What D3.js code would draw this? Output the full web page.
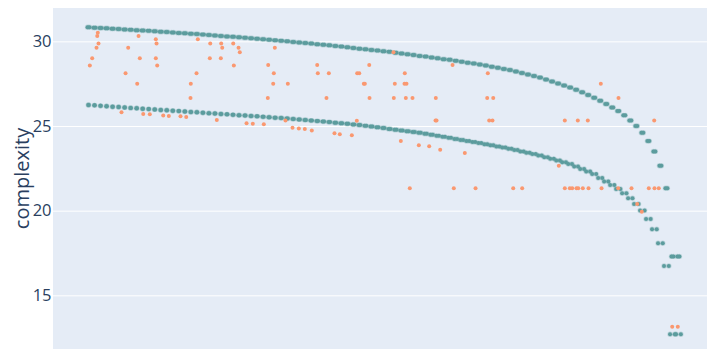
<!DOCTYPE html>
<html>
<head>
<meta charset="utf-8">
<script src="https://cdn.jsdelivr.net/npm/d3@7"></script>
<style>
  html, body { margin: 0; padding: 0; background: #ffffff; }
  svg { display: block; }
</style>
</head>
<body>
<svg id="chart" width="707" height="349"></svg>
<script>
// ---------------- DATA ----------------
// y-axis tick labels
const yTicks = [15, 20, 25, 30];

// upper teal series (one value per step index 0..98)
const upperComplexity = [
  30.83, 30.81, 30.79, 30.77, 30.75, 30.73, 30.70, 30.68, 30.66, 30.64,
  30.62, 30.60, 30.57, 30.55, 30.52, 30.50, 30.48, 30.45, 30.43, 30.40,
  30.38, 30.35, 30.32, 30.29, 30.27, 30.24, 30.21, 30.18, 30.15, 30.12,
  30.10, 30.06, 30.03, 30.00, 29.96, 29.93, 29.90, 29.87, 29.83, 29.80,
  29.77, 29.73, 29.69, 29.65, 29.61, 29.57, 29.53, 29.49, 29.46, 29.42,
  29.38, 29.33, 29.28, 29.24, 29.19, 29.14, 29.10, 29.05, 29.00, 28.95,
  28.91, 28.85, 28.80, 28.74, 28.69, 28.63, 28.57, 28.50, 28.44, 28.37,
  28.31, 28.22, 28.13, 28.04, 27.95, 27.86, 27.74, 27.63, 27.51, 27.40,
  27.28, 27.14, 26.99, 26.83, 26.67, 26.49, 26.30, 26.10, 25.88, 25.63,
  25.33, 25.00, 24.60, 24.11, 23.50, 22.65, 21.33, 17.30, 17.30
];

// lower teal series (one value per step index 0..98)
const lowerComplexity = [
  26.24, 26.22, 26.19, 26.17, 26.14, 26.12, 26.10, 26.07, 26.05, 26.02,
  26.00, 25.98, 25.95, 25.93, 25.90, 25.88, 25.86, 25.83, 25.81, 25.78,
  25.76, 25.74, 25.71, 25.69, 25.66, 25.64, 25.62, 25.59, 25.57, 25.54,
  25.52, 25.49, 25.47, 25.44, 25.42, 25.39, 25.36, 25.32, 25.29, 25.26,
  25.23, 25.19, 25.16, 25.13, 25.09, 25.06, 25.01, 24.97, 24.92, 24.88,
  24.83, 24.78, 24.74, 24.69, 24.65, 24.60, 24.54, 24.48, 24.42, 24.36,
  24.30, 24.23, 24.17, 24.11, 24.05, 23.99, 23.92, 23.86, 23.79, 23.73,
  23.66, 23.58, 23.50, 23.42, 23.34, 23.26, 23.16, 23.06, 22.96, 22.86,
  22.76, 22.61, 22.46, 22.31, 22.16, 21.93, 21.72, 21.51, 21.28, 21.03,
  20.74, 20.40, 20.01, 19.51, 18.90, 18.08, 16.73, 12.70, 12.70
];

// orange observed points: step position and complexity
const orangeX = [
  0.22, 0.61, 1.33, 1.45, 1.54, 1.66, 6.15, 6.59, 8.09, 8.31,
  8.52, 5.48, 9.09, 10.18, 11.18, 11.30, 11.18, 11.41, 12.41, 13.34,
  15.28, 16.23, 16.99, 16.94, 17.94, 18.16, 20.22, 20.15, 22.04, 22.21,
  21.98, 21.31, 24.04, 24.14, 24.92, 25.13, 30.95, 29.85, 30.78, 30.68,
  33.11, 29.78, 26.25, 27.29, 29.12, 32.72, 33.89, 34.93, 35.93, 37.09,
  37.99, 38.09, 39.92, 39.53, 40.86, 41.74, 43.74, 44.57, 44.63, 44.97,
  45.73, 45.90, 46.63, 46.68, 50.66, 50.71, 50.88, 51.88, 52.54, 52.49,
  52.82, 52.71, 53.82, 54.87, 56.59, 57.69, 57.64, 57.81, 58.42, 60.47,
  62.51, 53.37, 60.68, 64.29, 66.33, 66.23, 67.23, 66.56, 67.11, 79.12,
  81.28, 82.94, 85.10, 88.04, 93.97, 78.12, 70.55, 72.04, 79.12, 79.95,
  80.35, 81.06, 81.35, 82.11, 83.06, 85.22, 87.99, 90.20, 93.07, 94.02,
  94.73, 91.15, 91.91, 96.96, 97.89
];
const orangeY = [
  28.58, 29.00, 29.62, 30.31, 30.51, 29.88, 28.11, 29.62, 27.50, 30.31,
  29.00, 25.81, 25.71, 25.69, 30.12, 29.88, 29.00, 28.58, 25.62, 25.59,
  25.57, 25.53, 27.50, 26.65, 28.11, 30.12, 29.88, 29.00, 29.88, 29.62,
  29.00, 25.35, 29.88, 28.58, 29.62, 29.35, 29.62, 28.60, 28.11, 27.50,
  27.50, 26.65, 25.17, 25.13, 25.10, 25.33, 24.90, 24.86, 24.82, 24.74,
  28.60, 28.11, 28.11, 26.65, 24.57, 24.51, 24.45, 25.31, 28.11, 28.11,
  27.50, 27.50, 28.60, 26.65, 29.35, 26.65, 27.50, 24.11, 28.11, 27.50,
  27.50, 26.65, 26.65, 23.87, 23.80, 26.65, 25.33, 25.33, 23.60, 28.60,
  23.40, 21.32, 21.32, 21.32, 28.11, 26.65, 26.65, 25.33, 25.33, 25.33,
  25.33, 25.33, 27.50, 26.65, 25.33, 22.65, 21.32, 21.32, 21.32, 21.32,
  21.32, 21.32, 21.32, 21.32, 21.32, 21.32, 21.32, 21.32, 21.32, 21.32,
  21.32, 20.39, 19.94, 13.14, 13.14
];

// ---------------- LAYOUT ----------------
const W = 707, H = 349;
const plot = { left: 53, top: 8, right: 707, bottom: 349 };
const COLORS = {
  bg: "#e5ecf6", grid: "#ffffff", text: "#2a3f5f",
  teal: "#5c9c9e", tealHalo: "rgba(95,158,160,0.3)", orange: "#fa9870"
};

const svg = d3.select("#chart");

const x = d3.scaleLinear().domain([-5.9, 102.74]).range([plot.left, plot.right]);
const y = d3.scaleLinear().domain([11.83, 31.97]).range([plot.bottom, plot.top]);

// background
svg.append("rect")
  .attr("x", plot.left).attr("y", plot.top)
  .attr("width", plot.right - plot.left).attr("height", plot.bottom - plot.top)
  .attr("fill", COLORS.bg);

// y axis with gridlines
const yAxis = d3.axisLeft(y).tickValues(yTicks).tickSize(0).tickPadding(0).tickFormat(d3.format("d"));
const gy = svg.append("g").attr("transform", `translate(${plot.left},0)`).call(yAxis);
gy.select(".domain").remove();
gy.selectAll(".tick text")
  .attr("x", -1.5)
  .attr("fill", COLORS.text)
  .style("font-family", "'Open Sans', sans-serif")
  .style("font-size", "16.5px");
gy.selectAll(".tick").append("line")
  .attr("x1", 0).attr("x2", plot.right - plot.left)
  .attr("stroke", COLORS.grid).attr("stroke-width", 1);

svg.append("clipPath").attr("id", "clip").append("rect")
  .attr("x", plot.left).attr("y", plot.top)
  .attr("width", plot.right - plot.left).attr("height", plot.bottom - plot.top);

const marks = svg.append("g").attr("clip-path", "url(#clip)");

// teal series: each step drawn as a small horizontal pair of dots
function tealPoints(values, spread) {
  const pts = [];
  values.forEach((v, i) => {
    const s = spread(i);
    pts.push({ i, v, dx: -s / 2 });
    pts.push({ i, v, dx: s / 2 });
  });
  return pts;
}
const upperPts = tealPoints(upperComplexity, () => 2.0);
const lowerPts = tealPoints(lowerComplexity, i => 0.5 + 4.3 * Math.pow(Math.min(i, 96) / 96, 1.5));

marks.append("g").selectAll("circle.teal")
  .data(upperPts.concat(lowerPts))
  .join("circle")
  .attr("class", "teal")
  .attr("cx", d => x(d.i) + d.dx)
  .attr("cy", d => y(d.v))
  .attr("r", 2.0)
  .attr("fill", COLORS.teal)
  .attr("stroke", COLORS.tealHalo)
  .attr("stroke-width", 1.4);

// orange series
const orangeData = orangeX.map((xv, k) => ({ xv, yv: orangeY[k] }));
marks.append("g").selectAll("circle")
  .data(orangeData)
  .join("circle")
  .attr("cx", d => x(d.xv))
  .attr("cy", d => y(d.yv))
  .attr("r", 2.0)
  .attr("fill", COLORS.orange);

// y axis title
svg.append("text")
  .attr("transform", `translate(28.5,${(plot.top + plot.bottom) / 2}) rotate(-90)`)
  .attr("text-anchor", "middle")
  .attr("fill", COLORS.text)
  .style("font-family", "'Open Sans', sans-serif")
  .style("font-size", "20px")
  .text("complexity");
</script>
</body>
</html>
